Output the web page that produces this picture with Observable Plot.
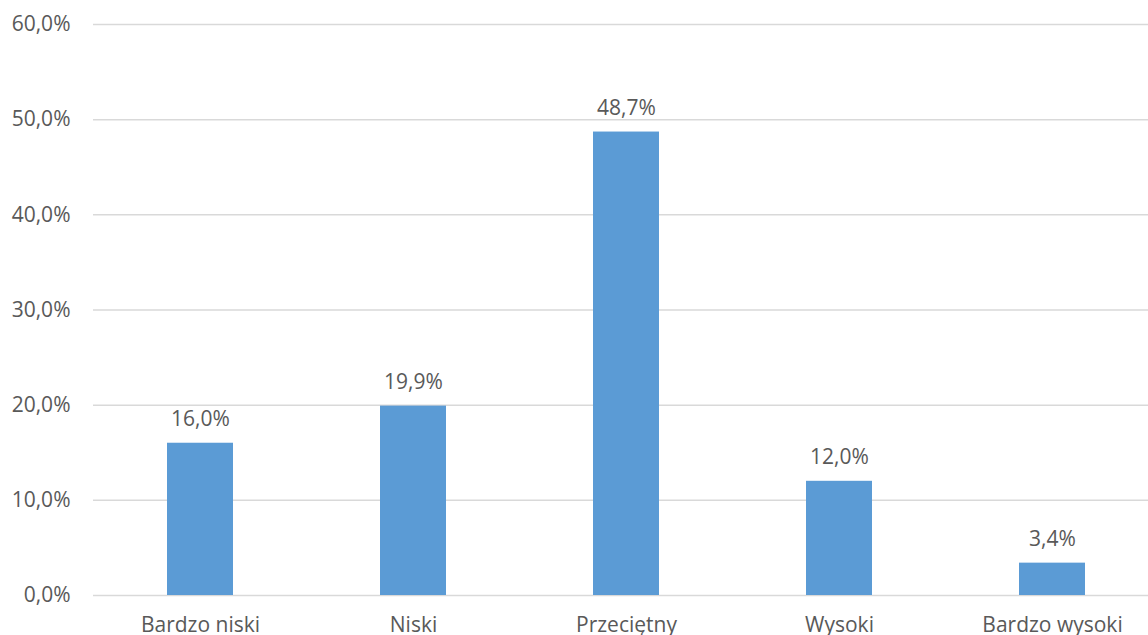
<!DOCTYPE html>
<html>
<head>
<meta charset="utf-8">
<script src="https://cdn.jsdelivr.net/npm/d3@7"></script>
<script src="https://cdn.jsdelivr.net/npm/@observablehq/plot@0.6"></script>
<style>
  html, body { margin: 0; padding: 0; background: #fff; overflow: hidden; }
  #chart { width: 1148px; height: 635px; overflow: hidden; }
  #chart svg { max-width: none !important; }
</style>
</head>
<body>
<div id="chart"></div>
<script>
const categories = ["Bardzo niski", "Niski", "Przeciętny", "Wysoki", "Bardzo wysoki"];
const values = [16.0, 19.9, 48.7, 12.0, 3.4];
const yTicks = [0, 10, 20, 30, 40, 50, 60];

const data = categories.map((c, i) => ({category: c, value: values[i]}));
const fmt = d => d.toFixed(1).replace(".", ",") + "%";
const textColor = "#595959";
const fs = 21;

const chart = Plot.plot({
  width: 1160,
  height: 635,
  marginLeft: 93,
  marginRight: 0,
  marginTop: 24,
  marginBottom: 40,
  style: {fontFamily: "'Open Sans', sans-serif", fontSize: fs + "px", color: textColor, background: "#fff", maxWidth: "none"},
  x: {domain: categories, paddingInner: 0.688, paddingOuter: 0.344, label: null},
  y: {domain: [0, 60], label: null},
  marks: [
    Plot.ruleY(yTicks, {stroke: "#d9d9d9", strokeWidth: 1.5}),
    Plot.barY(data, {x: "category", y: "value", fill: "#5b9bd5"}),
    Plot.text(data, {x: "category", y: "value", text: d => fmt(d.value), dy: -17, lineAnchor: "bottom", fill: textColor, fontSize: fs}),
    Plot.axisY({ticks: yTicks, tickFormat: fmt, tickSize: 0, tickPadding: 23, fontSize: fs, fill: textColor, label: null}),
    Plot.axisX({tickSize: 0, tickPadding: 22, fontSize: fs, fill: textColor, label: null})
  ]
});
document.getElementById("chart").appendChild(chart);
</script>
</body>
</html>
